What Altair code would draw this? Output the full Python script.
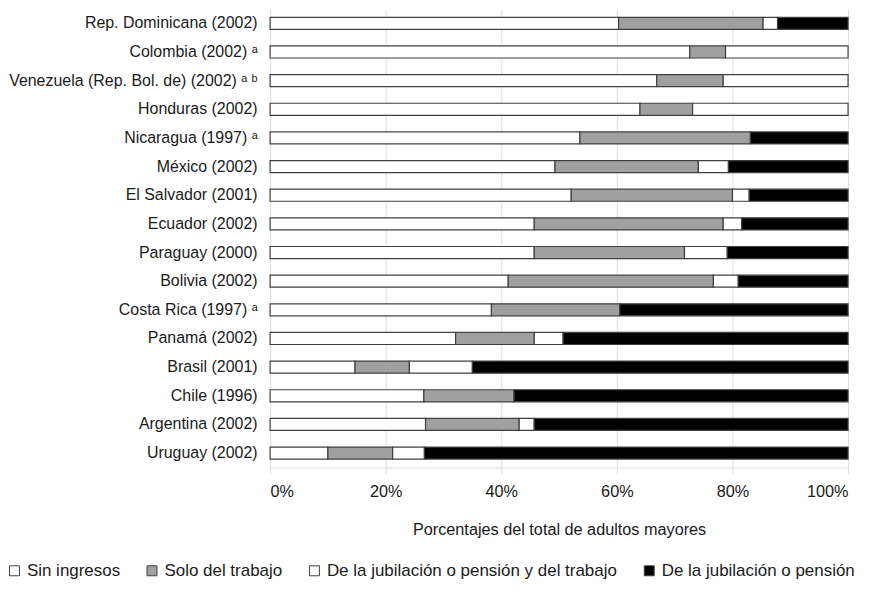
import altair as alt
import pandas as pd

countries = [
    "Rep. Dominicana (2002)", "Colombia (2002) ᵃ", "Venezuela (Rep. Bol. de) (2002) ᵃ ᵇ",
    "Honduras (2002)", "Nicaragua (1997) ᵃ", "México (2002)", "El Salvador (2001)",
    "Ecuador (2002)", "Paraguay (2000)", "Bolivia (2002)", "Costa Rica (1997) ᵃ",
    "Panamá (2002)", "Brasil (2001)", "Chile (1996)", "Argentina (2002)", "Uruguay (2002)",
]
categories = ["Sin ingresos", "Solo del trabajo",
              "De la jubilación o pensión y del trabajo", "De la jubilación o pensión"]
sin_ingresos = [60.3, 72.6, 66.9, 64.0, 53.6, 49.3, 52.1, 45.7, 45.7, 41.2, 38.3, 32.1, 14.7, 26.6, 26.9, 10.0]
solo_trabajo = [25.0, 6.2, 11.5, 9.1, 29.5, 24.8, 27.9, 32.7, 26.0, 35.5, 22.2, 13.6, 9.4, 15.6, 16.2, 11.2]
jub_y_trabajo = [2.5, 21.2, 21.6, 26.9, 0, 5.2, 2.9, 3.2, 7.4, 4.3, 0, 5.0, 10.9, 0, 2.6, 5.5]
jubilacion = [12.2, 0, 0, 0, 16.9, 20.7, 17.1, 18.4, 20.9, 19.0, 39.5, 49.3, 65.0, 57.8, 54.3, 73.3]
x_ticks = [0, 20, 40, 60, 80, 100]

series = [sin_ingresos, solo_trabajo, jub_y_trabajo, jubilacion]
rows = []
for ci, cat in enumerate(categories):
    for c, v in zip(countries, series[ci]):
        if v > 0:
            rows.append({"pais": c, "cat": cat, "orden": ci, "valor": v})
df = pd.DataFrame(rows)

FONT = "Liberation Sans"

chart = alt.Chart(df).mark_bar(stroke="#404040", strokeWidth=1.2).encode(
    y=alt.Y("pais:N", sort=countries, title=None,
            scale=alt.Scale(paddingInner=0.58, paddingOuter=0.29),
            axis=alt.Axis(labelFont=FONT, labelFontSize=16, labelColor="#1a1a1a",
                          labelPadding=13, ticks=False, domain=True,
                          domainColor="#dddddd", grid=False, labelLimit=400)),
    x=alt.X("valor:Q", stack="zero", title="Porcentajes del total de adultos mayores",
            scale=alt.Scale(domain=[0, 100], nice=False),
            axis=alt.Axis(values=x_ticks, labelExpr="datum.value + '%'",
                          labelFont=FONT, labelFontSize=16.3, labelColor="#1a1a1a",
                          titleFont=FONT, titleFontSize=16.3, titleFontWeight="normal",
                          titleColor="#1a1a1a", labelPadding=10, titlePadding=22,
                          grid=True, gridColor="#dddddd", domainColor="#dddddd",
                          tickColor="#dddddd", tickSize=6)),
    color=alt.Color("cat:N", sort=categories, title=None,
                    scale=alt.Scale(domain=categories,
                                    range=["#ffffff", "#a0a0a0", "#ffffff", "#000000"]),
                    legend=alt.Legend(orient="none", legendX=-265, legendY=555,
                                      direction="horizontal", symbolType="square",
                                      symbolSize=100, symbolStrokeColor="#404040",
                                      symbolStrokeWidth=1, labelFont=FONT,
                                      labelFontSize=17, labelColor="#1a1a1a",
                                      labelOffset=4, columnPadding=23, labelLimit=400)),
    order=alt.Order("orden:Q"),
).properties(
    width=580, height=460,
    autosize=alt.AutoSizeParams(type="none"),
    padding={"left": 263, "top": 0, "right": 19, "bottom": 112},
).configure_view(stroke=None)

chart.save("out.html", embed_options={"renderer": "svg", "actions": False})
